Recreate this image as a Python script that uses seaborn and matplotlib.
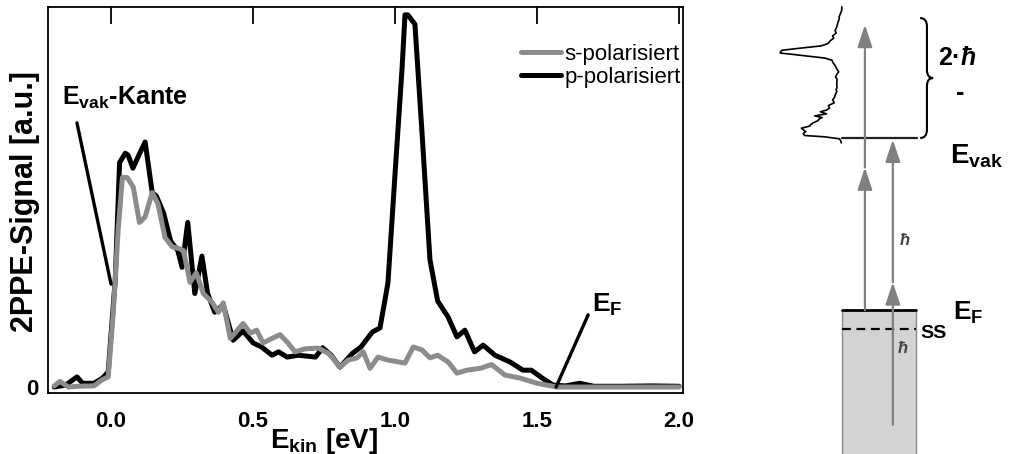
import numpy as np
import pandas as pd
import seaborn as sns
import matplotlib.pyplot as plt
from matplotlib.patches import Rectangle, PathPatch
from matplotlib.path import Path

# 2PPE spectra (E_kin in eV, signal in % of the p peak)
energy_p = np.array([-0.20, -0.16, -0.12, -0.10, -0.06, -0.03, -0.01, 0.015, 0.03, 0.05,
                     0.06, 0.077, 0.095, 0.12, 0.145, 0.16, 0.185, 0.21, 0.235, 0.25,
                     0.27, 0.295, 0.32, 0.34, 0.365, 0.395, 0.43, 0.465, 0.50, 0.53,
                     0.567, 0.59, 0.62, 0.66, 0.72, 0.745, 0.775, 0.806, 0.85, 0.88,
                     0.92, 0.947, 0.975, 1.0, 1.025, 1.035, 1.045, 1.07, 1.095, 1.123,
                     1.15, 1.187, 1.218, 1.246, 1.28, 1.31, 1.352, 1.405, 1.45, 1.48,
                     1.518, 1.557, 1.60, 1.65, 1.70, 1.80, 1.90, 2.00])
signal_p = np.array([0.0, 0.5, 2.7, 1.0, 1.0, 2.4, 4.0, 29, 60, 62.5,
                     62, 58.5, 61.5, 65.5, 52, 51, 46.5, 39, 36.5, 32,
                     44, 25, 35, 25, 20, 22, 12.5, 15, 11.8, 10.7,
                     8.5, 9.4, 8, 8.5, 8, 10.5, 8.5, 5.3, 9, 10.7,
                     14.7, 15.8, 27.8, 57, 85.5, 99.5, 99.5, 97, 68, 34,
                     23, 18.7, 13.4, 15.2, 9.4, 11.2, 8.5, 6.7, 4.5, 4.5,
                     2.4, 0.5, 0.3, 1.0, 0.2, 0.2, 0.3, 0.2])

energy_s = np.array([-0.20, -0.18, -0.15, -0.12, -0.06, -0.03, -0.01, 0.008, 0.025, 0.04,
                     0.057, 0.078, 0.10, 0.12, 0.145, 0.165, 0.19, 0.215, 0.24, 0.255,
                     0.278, 0.30, 0.325, 0.355, 0.378, 0.395, 0.42, 0.465, 0.49, 0.513,
                     0.535, 0.567, 0.595, 0.623, 0.648, 0.683, 0.73, 0.765, 0.778, 0.806,
                     0.835, 0.866, 0.888, 0.912, 0.94, 0.975, 1.035, 1.064, 1.095, 1.123,
                     1.15, 1.187, 1.218, 1.253, 1.30, 1.34, 1.387, 1.44, 1.50, 1.57,
                     1.65, 1.80, 2.00])
signal_s = np.array([0.3, 1.5, 0.0, 0.2, 0.3, 2.0, 2.7, 20, 42, 56,
                     56, 53.5, 44, 45.5, 52, 49, 40, 37.5, 37, 36.5,
                     28, 30.5, 25, 22.7, 20, 22.5, 13, 17, 14.4, 15.2,
                     11.8, 13, 14, 11.8, 9.4, 10.2, 10.4, 9, 8, 5.3,
                     7.2, 7.8, 9.4, 5, 8, 7.2, 6.4, 10.7, 9.9, 7.8,
                     8.5, 6.7, 3.7, 4.5, 5, 6, 3.2, 2.4, 1.0, 0.0,
                     0.0, 0.0, 0.0])

x_ticks = [0.0, 0.5, 1.0, 1.5, 2.0]
x_ticklabels = ['0.0', '0.5', '1.0', '1.5', '2.0']

# energy levels of the sketch (eV, relative to E_vak)
e_vak = 0.0
e_fermi = -2.1
e_ss = -2.33
hbar_omega = 1.74
e_start_deep = -3.5

sns.set_style('white')
plt.rcParams['font.family'] = ['Liberation Sans', 'DejaVu Sans']
plt.rcParams['mathtext.fontset'] = 'custom'
plt.rcParams['mathtext.rm'] = 'Liberation Sans:bold'
plt.rcParams['mathtext.bf'] = 'Liberation Sans:bold'
plt.rcParams['mathtext.it'] = 'Liberation Sans:italic:bold'
for key in ['text.color', 'axes.labelcolor', 'xtick.color', 'ytick.color', 'axes.edgecolor']:
    plt.rcParams[key] = 'black'

fig = plt.figure(figsize=(10.1, 4.54), dpi=100)
ax = fig.add_axes([48 / 1010, 61 / 454, 635 / 1010, 386 / 454])

gray = '#8c8c8c'
sns.lineplot(x=energy_p, y=signal_p, color='black', lw=3.6, sort=False,
             label='p-polarisiert', ax=ax)
sns.lineplot(x=energy_s, y=signal_s, color=gray, lw=3.6, sort=False,
             label='s-polarisiert', ax=ax)

ax.set_xlim(-0.222, 2.014)
ax.set_ylim(-1.6, 101.6)
ax.set_xticks(x_ticks)
ax.set_xticklabels(x_ticklabels, fontsize=16, fontweight='bold')
ax.set_yticks([0])
ax.set_yticklabels(['0'], fontsize=16, fontweight='bold')
ax.tick_params(axis='x', direction='in', length=12, width=1.3, top=True, pad=13)
ax.tick_params(axis='y', direction='in', length=4, width=1.3, pad=7)
for sp in ax.spines.values():
    sp.set_visible(True)
    sp.set_color('black')
    sp.set_linewidth(1.3)

ax.set_xlabel(r'E$_{\mathrm{kin}}$ [eV]', fontsize=20, fontweight='bold')
ax.xaxis.set_label_coords(0.435, -0.085)
ax.set_ylabel('')
ax.text(-0.036, 0.497, '2PPE-Signal [a.u.]', transform=ax.transAxes, rotation=90,
        ha='center', va='center', fontsize=22, fontweight='bold')

handles, labels = ax.get_legend_handles_labels()
ax.legend([handles[1], handles[0]], [labels[1], labels[0]], loc='upper right',
          bbox_to_anchor=(0.997, 0.905), frameon=False, fontsize=16,
          borderpad=0, borderaxespad=0, handlelength=1.8, handletextpad=0.15,
          labelspacing=0.1)

# annotations
ax.plot([-0.12, 0.0], [70.6, 27.5], color='black', lw=2.4)
ax.text(-0.1725, 75.4, r'E$_{\mathrm{vak}}$-Kante', fontsize=18, fontweight='bold',
        ha='left', va='baseline')
ax.plot([1.567, 1.68], [0.0, 19.3], color='black', lw=2.4)
ax.text(1.694, 20.0, r'E$_{\mathrm{F}}$', fontsize=19, fontweight='bold',
        ha='left', va='baseline')

# energy scheme on the right
ax2 = fig.add_axes([720 / 1010, 0, 290 / 1010, 1])
ax2.set_xlim(-196.8, 271)
ax2.set_ylim(-3.854, 1.683)
ax2.axis('off')

box_w = 119
ax2.add_patch(Rectangle((0, -4.5), box_w, e_fermi + 4.5, facecolor='#d3d3d6',
                        edgecolor='none'))
ax2.plot([0, 0], [-4.5, e_fermi], color='#8a8a8a', lw=1)
ax2.plot([box_w, box_w], [-4.5, e_fermi], color='#8a8a8a', lw=1)
ax2.plot([0, box_w], [e_fermi, e_fermi], color='black', lw=2)
ax2.plot([0, box_w], [e_ss, e_ss], color='black', lw=1.6, ls=(0, (4, 2.5)))
ax2.plot([0, box_w + 2], [e_vak, e_vak], color='#222222', lw=1.6)

mask = (energy_p >= -0.06) & (energy_p <= 1.6)
ax2.plot(-signal_p[mask], energy_p[mask], color='black', lw=1.2)


def photon(x, e0):
    ax2.annotate('', xy=(x, e0 + hbar_omega), xytext=(x, e0),
                 arrowprops=dict(arrowstyle='-|>,head_length=0.9,head_width=0.3',
                                 color='#808080', lw=1.6, mutation_scale=15,
                                 shrinkA=0, shrinkB=0))


photon(37, e_fermi)
photon(37, e_fermi + hbar_omega)
photon(82, e_start_deep)
photon(82, e_start_deep + hbar_omega)

# curly brace 2*hbar*omega - E_vak
top, bot = 1.463, e_vak
mid = (top + bot) / 2
x0, xm, xt, r = 126, 137, 147, 0.1
verts = [(x0, top), (xm, top), (xm, top - r), (xm, mid + r), (xm, mid), (xt, mid),
         (xm, mid), (xm, mid - r), (xm, bot + r), (xm, bot), (x0, bot)]
codes = [Path.MOVETO, Path.CURVE3, Path.CURVE3, Path.LINETO, Path.CURVE3, Path.CURVE3,
         Path.CURVE3, Path.CURVE3, Path.LINETO, Path.CURVE3, Path.CURVE3]
ax2.add_patch(PathPatch(Path(verts, codes), facecolor='none', edgecolor='black', lw=1.5))

ax2.text(155, 0.976, r'2·$\mathit{ħ}$', fontsize=18, fontweight='bold', ha='left', va='center')
ax2.text(190, 0.55, '-', fontsize=18, fontweight='bold', ha='center', va='center')
ax2.text(174, -0.305, r'E$_{\mathrm{vak}}$', fontsize=20, fontweight='bold',
         ha='left', va='baseline')
ax2.text(179, -2.22, r'E$_{\mathrm{F}}$', fontsize=19, fontweight='bold',
         ha='left', va='baseline')
ax2.text(126, -2.44, 'SS', fontsize=14, fontweight='bold', ha='left', va='baseline')
ax2.text(101, -1.24, r'$\mathit{ħ}$', fontsize=12, color='#444444', ha='center', va='center')
ax2.text(98, -2.56, r'$\mathit{ħ}$', fontsize=12, color='#444444', ha='center', va='center')

fig.savefig('out.png', dpi=100)
